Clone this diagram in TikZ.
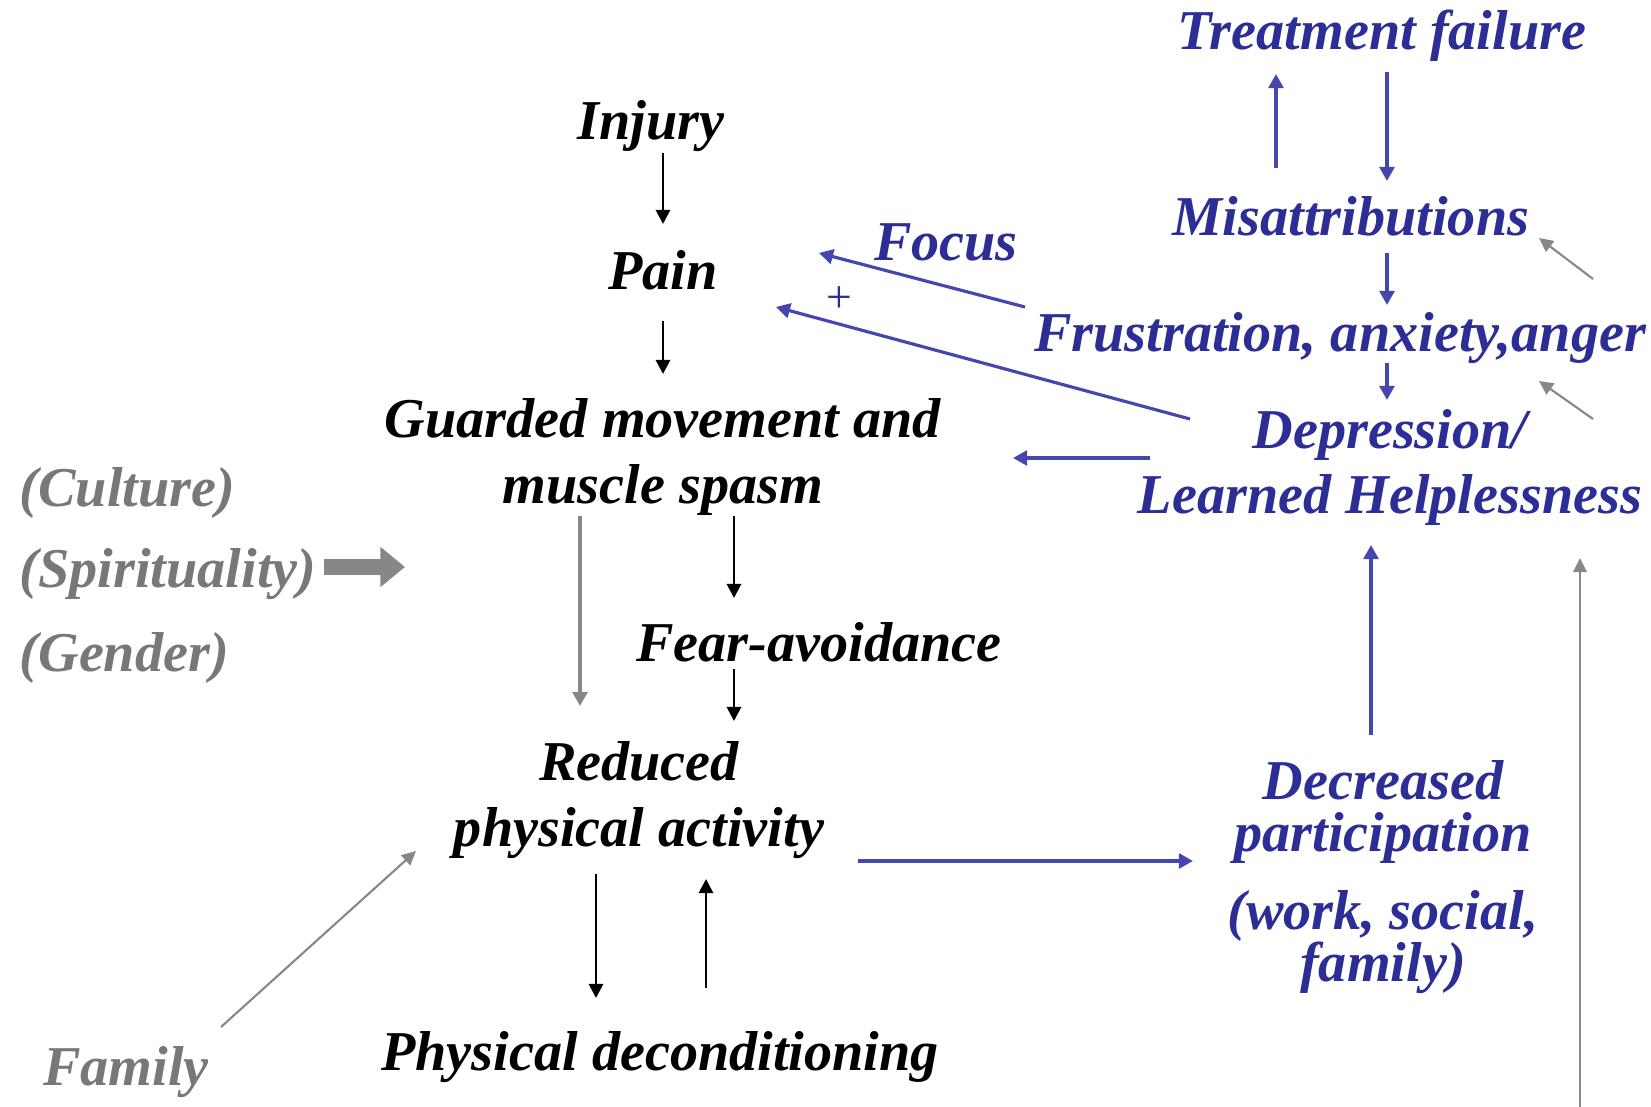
\documentclass[tikz,border=0pt]{standalone}
\usepackage{fontspec}
\setmainfont{Liberation Serif}
\usepackage{tikz}
\usetikzlibrary{arrows.meta,calc}
\definecolor{pathblue}{RGB}{45,45,150}
\definecolor{pathbluearr}{RGB}{70,70,175}
\definecolor{pathgrey}{RGB}{120,120,120}
\definecolor{pathgreyarr}{RGB}{135,135,135}

\begin{document}
\begin{tikzpicture}[x=0.1mm, y=-0.1mm,
    lbl/.style={font=\fontsize{16}{19}\selectfont\bfseries\itshape, inner sep=0pt, align=center},
    blacklbl/.style={lbl, text=black},
    bluelbl/.style={lbl, text=pathblue},
    greylbl/.style={lbl, text=pathgrey},
    blackarr/.style={line width=0.8pt, -{Triangle[length=4pt,width=4pt]}},
    bluearr/.style={pathbluearr, line width=0.9pt, -{Triangle[length=4pt,width=4.2pt]}},
    greyarr/.style={pathgreyarr, line width=0.6pt, -{Triangle[length=4pt,width=3.8pt]}},
    thickgrey/.style={pathgreyarr, line width=1.1pt, -{Triangle[length=4pt,width=4.2pt]}}]
    \useasboundingbox (0,0) rectangle (1651,1107);

    % Central chain
    \node[blacklbl] (injury) at (651,126) {Injury};
    \node[blacklbl] (pain) at (663,270) {Pain};
    \node[blacklbl] (guard) at (663,457) {Guarded movement and\\muscle spasm};
    \node[blacklbl] (fear) at (819,642) {Fear-avoidance};
    \node[blacklbl] (reduced) at (639,800) {Reduced\\physical activity};
    \node[blacklbl] (decond) at (660,1057) {Physical deconditioning};

    % Grey influences
    \node[greylbl, anchor=west] (culture) at (19,493) {(Culture)};
    \node[greylbl, anchor=west] (spirit) at (19,574) {(Spirituality)};
    \node[greylbl, anchor=west] (gender) at (19,658) {(Gender)};
    \node[greylbl] (family) at (126,1072) {Family};

    % Blue loop
    \node[bluelbl] (treat) at (1382,36) {Treatment failure};
    \node[bluelbl] (misattr) at (1351,216) {Misattributions};
    \node[bluelbl] (focus) at (946,242) {Focus};
    \node[bluelbl] (plus) at (839,300) {\fontsize{13}{13}\selectfont\mdseries\upshape +};
    \node[bluelbl] (frust) at (1340,338) {Frustration, anxiety,anger};
    \node[bluelbl, font=\fontsize{16}{18.5}\selectfont\bfseries\itshape] (depr) at (1390,467) {Depression/\\Learned Helplessness};
    \node[bluelbl, font=\fontsize{16}{14.8}\selectfont\bfseries\itshape] (decr) at (1383,877) {Decreased\\participation\\[2.6mm](work, social,\\family)};

    \coordinate (bottomedge) at (1580,1107);
    \coordinate (upgrey) at (1593,279);
    \coordinate (lowgrey) at (1593,419);
    \coordinate (fattip) at (405,567);

    % Black arrows
    \draw[blackarr] ($(injury)+(12,27)$) -- ($(pain)+(0,-46)$);
    \draw[blackarr] ($(pain)+(0,51)$) -- ($(guard)+(0,-83)$);
    \draw[thickgrey] ($(guard)+(-83,59)$) -- ($(reduced)+(-59,-94)$);
    \draw[blackarr] ($(guard)+(71,59)$) -- ($(fear)+(-85,-44)$);
    \draw[blackarr] ($(fear)+(-85,27)$) -- ($(reduced)+(95,-79)$);
    \draw[blackarr] ($(reduced)+(-43,74)$) -- ($(decond)+(-64,-59)$);
    \draw[blackarr] ($(decond)+(46,-69)$) -- ($(reduced)+(67,79)$);

    % Blue arrows
    \draw[bluearr] ($(reduced)+(219,61)$) -- ($(decr)+(-190,-16)$);
    \draw[bluearr] ($(decr)+(-12,-142)$) -- ($(depr)+(-19,78)$);
    \draw[bluearr] ($(depr)+(-240,-9)$) -- ($(guard)+(350,1)$);
    \draw[bluearr] ($(depr)+(-200,-48)$) -- ($(pain)+(113,37)$);
    \draw[bluearr] ($(frust)+(-315,-31)$) -- ($(pain)+(156,-17)$);
    \draw[bluearr] ($(misattr)+(-75,-48)$) -- ($(treat)+(-106,38)$);
    \draw[bluearr] ($(treat)+(5,36)$) -- ($(misattr)+(36,-35)$);
    \draw[bluearr] ($(misattr)+(36,37)$) -- ($(frust)+(47,-33)$);
    \draw[bluearr] ($(frust)+(47,25)$) -- ($(depr)+(-3,-67)$);

    % Grey arrows
    \draw[greyarr] (bottomedge) -- ($(depr)+(190,91)$);
    \draw[greyarr] (upgrey) -- ($(misattr)+(188,22)$);
    \draw[greyarr] (lowgrey) -- ($(frust)+(199,43)$);
    \draw[greyarr] ($(family)+(95,-45)$) -- ($(reduced)+(-223,51)$);
    \draw[pathgreyarr, line width=4.3pt, -{Triangle[length=7pt,width=11pt]}] ($(spirit.east)+(7,-7)$) -- (fattip);

\end{tikzpicture}
\end{document}
